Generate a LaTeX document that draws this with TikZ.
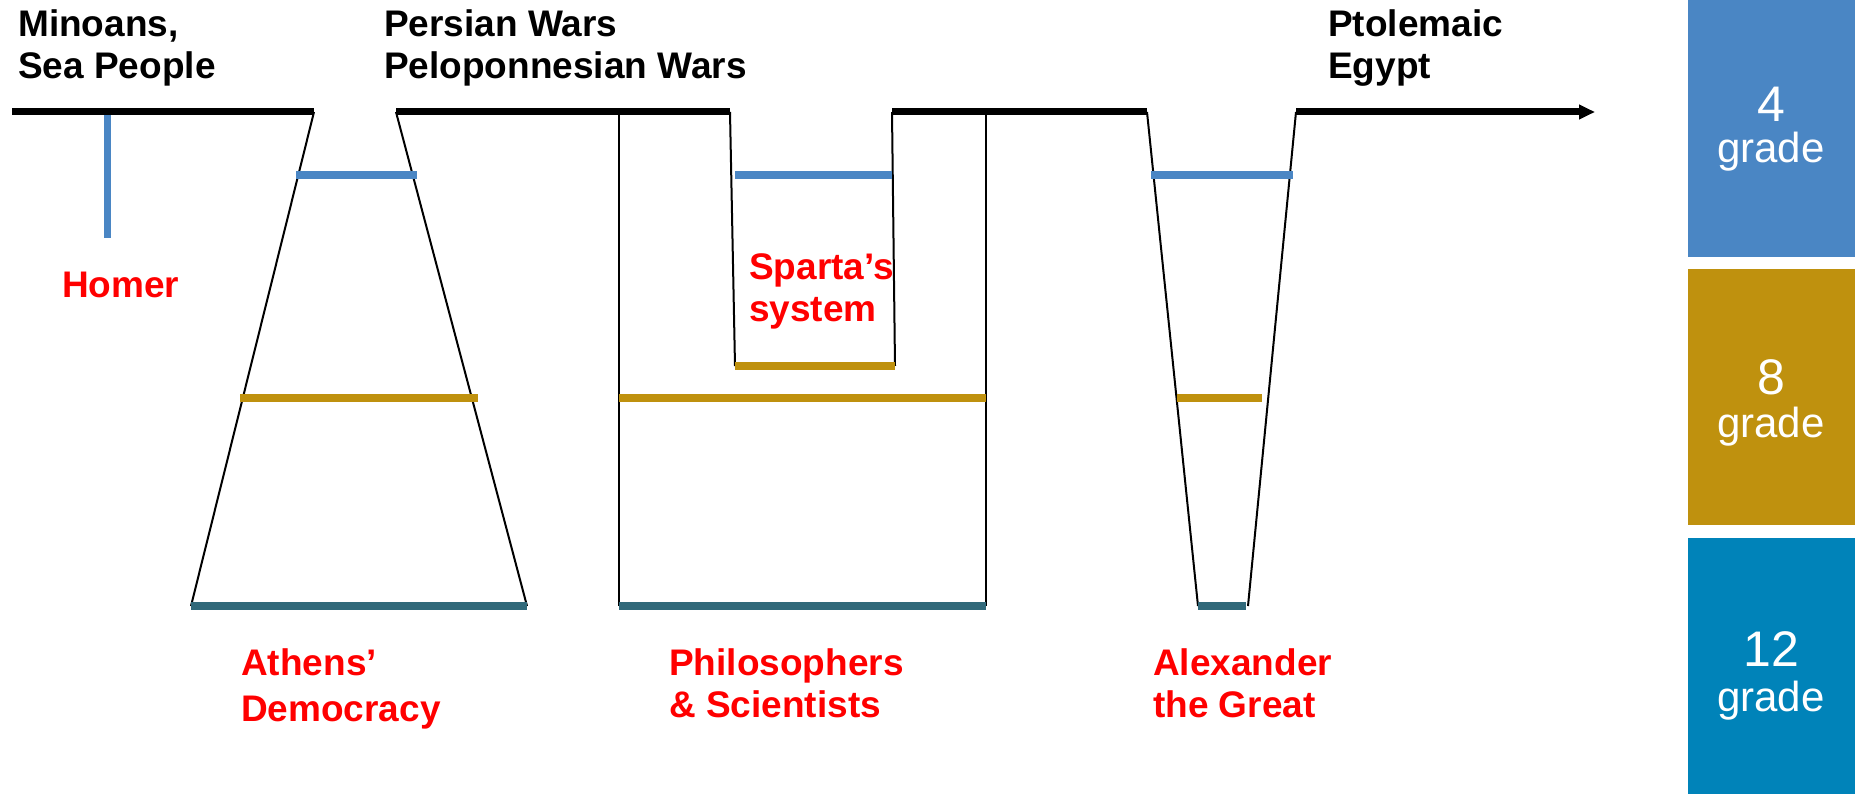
\documentclass[tikz,border=0pt]{standalone}
\usepackage{fontspec}
\setmainfont{Liberation Sans}
\usetikzlibrary{arrows.meta}
\definecolor{gblue}{HTML}{4A86C4}
\definecolor{ggold}{HTML}{BF910E}
\definecolor{gcyan}{HTML}{0083B9}
\definecolor{gteal}{HTML}{31697A}
\definecolor{gred}{HTML}{FF0000}
\tikzset{
  timeline/.style={line width=7pt, black},
  thin/.style={line width=2pt, black},
  bluebar/.style={line width=7.5pt, gblue},
  goldbar/.style={line width=7.5pt, ggold},
  tealbar/.style={line width=7.5pt, gteal},
  toplabel/.style={anchor=base west, inner sep=0pt, align=left, font=\fontsize{37}{42}\selectfont\bfseries, text=black},
  redlabel/.style={anchor=base west, inner sep=0pt, align=left, font=\fontsize{37}{42}\selectfont\bfseries, text=gred},
  gradenum/.style={inner sep=0pt, text=white, font=\fontsize{50}{50}\selectfont},
  gradeword/.style={inner sep=0pt, text=white, font=\fontsize{42}{42}\selectfont},
}
\begin{document}
\begin{tikzpicture}[x=1pt,y=-1pt]
\useasboundingbox (0,0) rectangle (1864,794);
\fill[white] (0,0) rectangle (1864,794);

% grade boxes
\fill[gblue] (1688,0) rectangle (1855,257);
\fill[ggold] (1688,269) rectangle (1855,525);
\fill[gcyan] (1688,538) rectangle (1855,794);
\node[gradenum] (g4) at (1771,104) {4};
\node[gradeword] (g4w) at (1771,152) {grade};
\node[gradenum] (g8) at (1771,377) {8};
\node[gradeword] (g8w) at (1771,427) {grade};
\node[gradenum] (g12) at (1771,649) {12};
\node[gradeword] (g12w) at (1771,701) {grade};

% timeline coordinates
\coordinate (t0) at (12,112);
\coordinate (t1) at (314,112);
\coordinate (t2) at (396,112);
\coordinate (t3) at (730,112);
\coordinate (t4) at (892,112);
\coordinate (t5) at (1147,112);
\coordinate (t6) at (1296,112);
\coordinate (t7) at (1595,112);
\coordinate (p1) at (619,112);
\coordinate (p2) at (986,112);

% Athens trapezoid
\coordinate (a1) at (191,606);
\coordinate (a2) at (527,606);
\draw[thin] (t1) -- (a1);
\draw[thin] (t2) -- (a2);
\draw[bluebar] (296,175) -- (417,175);
\draw[goldbar] (240,398) -- (478,398);
\draw[tealbar] (a1) -- (a2);

% Philosophers rectangle
\coordinate (ph1) at (619,606);
\coordinate (ph2) at (986,606);
\draw[thin] (p1) -- (ph1);
\draw[thin] (p2) -- (ph2);
\draw[goldbar] (619,398) -- (986,398);
\draw[tealbar] (ph1) -- (ph2);

% Sparta
\coordinate (s1) at (735,366);
\coordinate (s2) at (895,366);
\draw[thin] (t3) -- (s1);
\draw[thin] (t4) -- (s2);
\draw[bluebar] (735,175) -- (892,175);
\draw[goldbar] (s1) -- (s2);

% Alexander
\coordinate (x1) at (1198,606);
\coordinate (x2) at (1248,606);
\draw[thin] (t5) -- (x1);
\draw[thin] (t6) -- (x2);
\draw[bluebar] (1151,175) -- (1293,175);
\draw[goldbar] (1177,398) -- (1262,398);
\draw[tealbar] (1198,606) -- (1246,606);

% Homer
\coordinate (h0) at (107,112);
\coordinate (h1) at (107,238);
\draw[line width=7pt, gblue] (h0) -- (h1);

% timeline segments
\draw[timeline] (t0) -- (t1);
\draw[timeline] (t2) -- (t3);
\draw[timeline] (t4) -- (t5);
\draw[timeline, -{Triangle[length=16pt,width=14pt]}] (t6) -- (t7);

% top labels (anchor = baseline of last line)
\node[toplabel] (minoans) at (18,79) {Minoans,\\Sea People};
\node[toplabel] (persian) at (384,79) {Persian Wars\\Peloponnesian Wars};
\node[toplabel] (ptolemaic) at (1328,79) {Ptolemaic\\Egypt};

% red labels
\node[redlabel] (homer) at (62,298) {Homer};
\node[redlabel] (sparta) at (749,322) {Sparta’s\\system};
\node[redlabel, font=\fontsize{37}{46}\selectfont\bfseries] (athens) at (241,721) {Athens’\\Democracy};
\node[redlabel] (philo) at (669,717) {Philosophers\\\& Scientists};
\node[redlabel] (alex) at (1153,717) {Alexander\\the Great};
\end{tikzpicture}
\end{document}
